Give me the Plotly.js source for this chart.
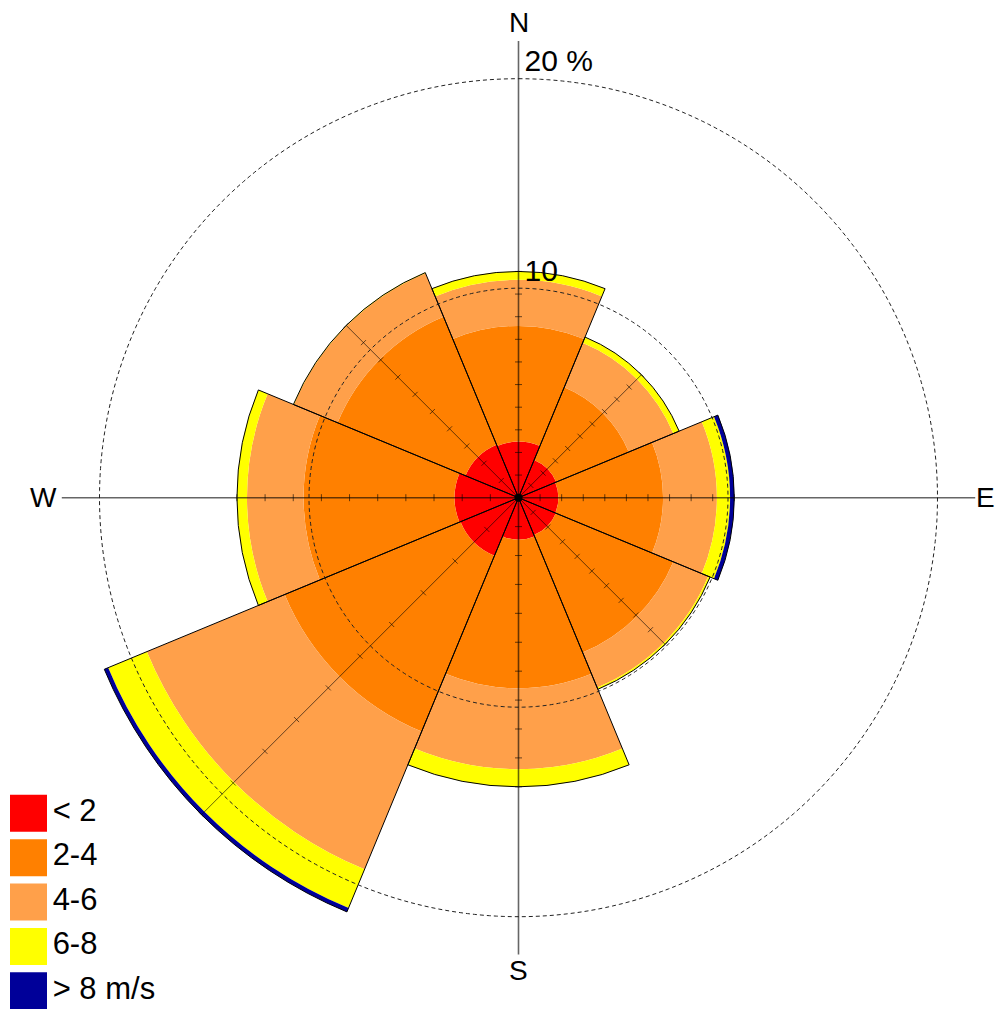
<!DOCTYPE html>
<html>
<head>
<meta charset="utf-8">
<script src="https://cdn.plot.ly/plotly-3.0.1.min.js"></script>
<style>
html,body{margin:0;padding:0;background:#fff;}
#chart{width:998px;height:1009px;}
</style>
</head>
<body>
<div id="chart"></div>
<script>
// ---- data (percent of time, per direction sector) ----
const directions = ['N','NE','E','SE','S','SW','W','NW'];
const dirAngles  = [0, 45, 90, 135, 180, 225, 270, 315];
const speedBins  = ['< 2', '2-4', '4-6', '6-8', '> 8 m/s'];
const binColors  = ['#FF0000', '#FF8000', '#FFA04A', '#FFFF00', '#000099'];

const pctLt2   = [2.67, 1.95, 1.90, 1.93, 2.00, 3.00, 3.05, 2.74];
const pct2to4  = [5.53, 3.75, 5.00, 6.07, 7.10, 9.08, 7.21, 6.61];
const pct4to6  = [2.20, 2.30, 2.57, 1.80, 3.86, 7.12, 2.70, 2.25];
const pct6to8  = [0.40, 0.30, 0.63, 0.10, 0.84, 2.00, 0.48, 0.03];
const pctGt8   = [0.00, 0.00, 0.20, 0.00, 0.00, 0.20, 0.00, 0.00];

const radialTicks      = [10, 20];
const radialTickLabels = ['10', '20 %'];
const compassLabels    = ['N', 'E', 'S', 'W'];
const compassAngles    = [0, 90, 180, 270];

// ---- build ----
const series = [pctLt2, pct2to4, pct4to6, pct6to8, pctGt8];
const totals = dirAngles.map((_, i) => series.reduce((s, arr) => s + arr[i], 0));

const FONT = 'Liberation Sans, Arial, sans-serif';
const AXIS_LINE = 'rgba(0,0,0,0.6)';
const traces = [];

// stacked sectors
series.forEach((vals, k) => {
  traces.push({
    type: 'barpolar', subplot: 'polar',
    r: vals, theta: dirAngles, width: dirAngles.map(() => 45),
    name: speedBins[k],
    marker: {color: binColors[k], line: {width: 0}},
    hoverinfo: 'skip'
  });
});

// sector outlines (overlay subplot)
traces.push({
  type: 'barpolar', subplot: 'polar2',
  r: totals, theta: dirAngles, width: dirAngles.map(() => 45),
  marker: {color: 'rgba(0,0,0,0)', line: {color: '#000', width: 1}},
  hoverinfo: 'skip'
});

// dashed reference circles
radialTicks.forEach(rv => {
  const th = [], rr = [];
  for (let a = 0; a <= 360; a += 1) { th.push(a); rr.push(rv); }
  traces.push({
    type: 'scatterpolar', subplot: 'polar2', mode: 'lines',
    r: rr, theta: th,
    line: {color: '#222', width: 1, dash: '4px,3px'},
    hoverinfo: 'skip'
  });
});

// main N-S and E-W axes
const axisReach = 21.8;
[0, 90].forEach(a => {
  traces.push({
    type: 'scatterpolar', subplot: 'polar2', mode: 'lines',
    r: [axisReach, 0, axisReach], theta: [a, a, a + 180],
    line: {color: AXIS_LINE, width: 1.6},
    hoverinfo: 'skip'
  });
});

// diagonal spokes + tick marks along every direction (10 divisions of the sector total)
const tickSymbol = {0:'line-ew',180:'line-ew',90:'line-ns',270:'line-ns',45:'line-nw',225:'line-nw',135:'line-ne',315:'line-ne'};
dirAngles.forEach((a, i) => {
  if (a % 90 !== 0) {
    traces.push({
      type: 'scatterpolar', subplot: 'polar2', mode: 'lines',
      r: [0, totals[i]], theta: [a, a],
      line: {color: AXIS_LINE, width: 1},
      hoverinfo: 'skip'
    });
  }
  const tr = [], tt = [];
  for (let k = 1; k <= 10; k++) { tr.push(totals[i] * k / 10); tt.push(a); }
  traces.push({
    type: 'scatterpolar', subplot: 'polar2', mode: 'markers',
    r: tr, theta: tt,
    marker: {symbol: tickSymbol[a], size: 5, color: AXIS_LINE, line: {color: AXIS_LINE, width: 1}},
    hoverinfo: 'skip'
  });
});

// center dot
traces.push({
  type: 'scatterpolar', subplot: 'polar2', mode: 'markers',
  r: [0], theta: [0], marker: {color: '#000', size: 8},
  hoverinfo: 'skip'
});

// radial labels
traces.push({
  type: 'scatterpolar', subplot: 'polar2', mode: 'text',
  r: radialTicks, theta: radialTicks.map(() => 0),
  text: radialTickLabels.map(s => '\u2009' + s),
  textposition: 'top right',
  textfont: {family: FONT, size: 30, color: '#000'},
  cliponaxis: false, hoverinfo: 'skip'
});

// legend (cartesian helper)
traces.push({
  type: 'scatter', xaxis: 'x', yaxis: 'y', mode: 'markers+text',
  x: speedBins.map(() => 0), y: speedBins.map((_, i) => i),
  text: speedBins, textposition: 'middle right',
  textfont: {family: FONT, size: 31, color: '#000'},
  marker: {symbol: 'square', size: 37, color: binColors, line: {width: 0}},
  cliponaxis: false, hoverinfo: 'skip'
});

const W = 998, H = 1009;
const cx = 518.5, cy = 497.7, R = 460.9;
const polarCommon = {
  domain: {x: [(cx - R) / W, (cx + R) / W], y: [(H - cy - R) / H, (H - cy + R) / H]},
  bgcolor: 'rgba(0,0,0,0)',
  radialaxis: {range: [0, 22], visible: false, showgrid: false},
  angularaxis: {rotation: 90, direction: 'clockwise', showgrid: false, showline: false,
                showticklabels: false, ticks: ''}
};

// compass labels placed around the rose (pixel distance from centre)
const compassDist = {0: 475, 90: 467, 180: 473, 270: 475};
const annotations = compassLabels.map((t, i) => {
  const a = compassAngles[i] * Math.PI / 180;
  const d = compassDist[compassAngles[i]];
  return {
    xref: 'paper', yref: 'paper',
    x: (cx + d * Math.sin(a)) / W, y: (H - (cy - d * Math.cos(a))) / H,
    xanchor: 'center', yanchor: 'middle', showarrow: false,
    text: t, font: {family: FONT, size: 28, color: '#000'}
  };
});

const layout = {
  width: W, height: H,
  margin: {l: 0, r: 0, t: 0, b: 0, pad: 0},
  paper_bgcolor: '#fff', plot_bgcolor: 'rgba(0,0,0,0)',
  showlegend: false,
  font: {family: FONT, color: '#000'},
  polar:  Object.assign({}, JSON.parse(JSON.stringify(polarCommon)), {barmode: 'stack'}),
  polar2: Object.assign({}, JSON.parse(JSON.stringify(polarCommon)), {barmode: 'overlay'}),
  xaxis: {domain: [0, 200 / W], range: [-28.5, 171.5], visible: false, fixedrange: true},
  yaxis: {domain: [0, 240 / H], range: [4.41, -1.0], visible: false, fixedrange: true},
  annotations: annotations
};

Plotly.newPlot('chart', traces, layout, {staticPlot: true, displayModeBar: false});
</script>
</body>
</html>
